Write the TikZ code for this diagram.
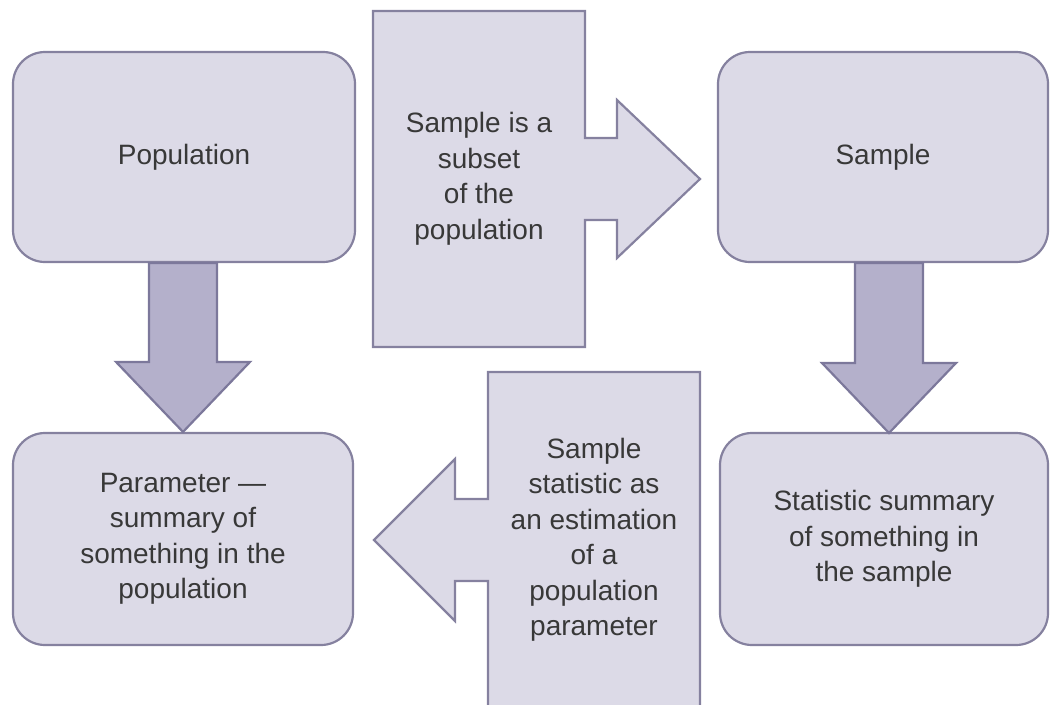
\documentclass[tikz,border=0pt]{standalone}
\usepackage{fontspec}
\setmainfont{Liberation Sans}
\usetikzlibrary{calc}

\definecolor{boxfill}{HTML}{DCDAE7}
\definecolor{boxline}{HTML}{85819F}
\definecolor{arrowfill}{HTML}{B4B0CB}
\definecolor{arrowline}{HTML}{7C789B}
\definecolor{inktext}{HTML}{383838}

\tikzset{
  roundbox/.style={draw=boxline, fill=boxfill, line width=2.2pt,
    rounded corners=32pt, align=center, text=inktext,
    font=\fontsize{28}{35.5}\selectfont, inner sep=0pt},
  calloutlabel/.style={align=center, text=inktext,
    font=\fontsize{28}{35.5}\selectfont, inner sep=0pt},
  callout/.style={draw=boxline, fill=boxfill, line width=2.2pt, line join=miter},
  fatarrow/.style={draw=arrowline, fill=arrowfill, line width=2.2pt, line join=miter},
}

\begin{document}
\begin{tikzpicture}[x=1pt, y=-1pt]
  \useasboundingbox (0,0) rectangle (1051,704);
  \clip (0,0) rectangle (1051,704);

  % Four rounded boxes
  \node[roundbox, minimum width=342pt, minimum height=210pt] (pop) at (184,157)
    {Population};
  \node[roundbox, minimum width=330pt, minimum height=210pt] (smp) at (883,157)
    {Sample};
  \node[roundbox, minimum width=340pt, minimum height=212pt] (par) at (183,539)
    {Parameter —\\summary of\\something in the\\population};
  \node[roundbox, minimum width=328pt, minimum height=212pt] (sta) at (884,539)
    {Statistic summary\\of something in\\the sample};

  % Block arrows pointing down
  \coordinate (ltop) at (par.north |- pop.south);
  \draw[fatarrow]
    ($(ltop)+(-34,0)$) -- ($(ltop)+(34,0)$) -- ($(par.north)+(34,-70)$)
    -- ($(par.north)+(67,-70)$) -- (par.north) -- ($(par.north)+(-67,-70)$)
    -- ($(par.north)+(-34,-70)$) -- cycle;

  \coordinate (rtip) at (889,433);
  \coordinate (rtop) at (rtip |- smp.south);
  \draw[fatarrow]
    ($(rtop)+(-34,0)$) -- ($(rtop)+(34,0)$) -- ($(rtip)+(34,-70)$)
    -- ($(rtip)+(67,-70)$) -- (rtip) -- ($(rtip)+(-67,-70)$)
    -- ($(rtip)+(-34,-70)$) -- cycle;

  % Callout pointing right: population -> sample
  \coordinate (subc) at (479,179);
  \draw[callout]
    ($(subc)+(-106,-168)$) -- ($(subc)+(106,-168)$) -- ($(subc)+(106,-41)$)
    -- ($(subc)+(138,-41)$) -- ($(subc)+(138,-79)$) -- ($(subc)+(221,0)$)
    -- ($(subc)+(138,79)$) -- ($(subc)+(138,41)$) -- ($(subc)+(106,41)$)
    -- ($(subc)+(106,168)$) -- ($(subc)+(-106,168)$) -- cycle;
  \node[calloutlabel] (sub) at (subc) {Sample is a\\subset\\of the\\population};

  % Callout pointing left: sample statistic -> parameter
  \coordinate (estc) at (594,540);
  \draw[callout]
    ($(estc)+(106,-168)$) -- ($(estc)+(-106,-168)$) -- ($(estc)+(-106,-41)$)
    -- ($(estc)+(-139,-41)$) -- ($(estc)+(-139,-81)$) -- ($(estc)+(-220,0)$)
    -- ($(estc)+(-139,81)$) -- ($(estc)+(-139,41)$) -- ($(estc)+(-106,41)$)
    -- ($(estc)+(-106,168)$) -- ($(estc)+(106,168)$) -- cycle;
  \node[calloutlabel] (est) at (estc)
    {Sample\\statistic as\\an estimation\\of a\\population\\parameter};
\end{tikzpicture}
\end{document}
